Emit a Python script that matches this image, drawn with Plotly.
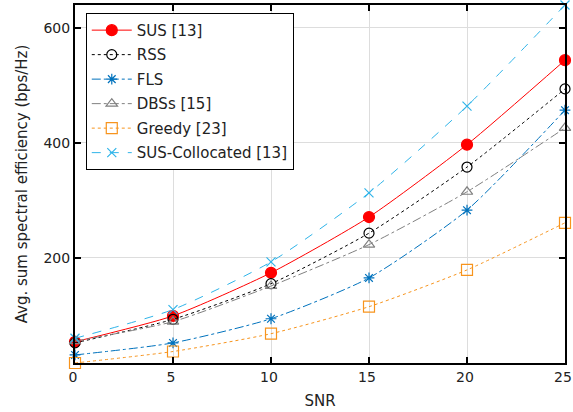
import plotly.graph_objects as go

snr = [0, 5, 10, 15, 20, 25]
sus = [54, 99, 174, 271, 397, 544]
rss = [52, 93, 155, 243, 358, 494]
fls = [31, 52, 94, 165, 283, 457]
dbss = [55, 89, 151, 223, 315, 426]
greedy = [17, 37, 68, 115, 179, 261]
sus_col = [60, 110, 193, 313, 464, 640]

x_ticks = [0, 5, 10, 15, 20, 25]
y_ticks = [200, 400, 600]

series = [
    ("SUS [13]", sus, "#FF0000", "solid", "circle", 11),
    ("RSS", rss, "#000000", "dot", "circle-open", 10),
    ("FLS", fls, "#0072BD", "dashdot", "asterisk-open", 9),
    ("DBSs [15]", dbss, "#808080", "dashdot", "triangle-up-open", 10),
    ("Greedy [23]", greedy, "#F7941D", "dot", "square-open", 11),
    ("SUS-Collocated [13]", sus_col, "#2FB4E9", "dash", "x-thin-open", 9),
]

fig = go.Figure()
for i, (name, ys, color, dash, sym, size) in enumerate(series):
    fig.add_trace(go.Scatter(
        x=snr, y=ys, name=name, mode="lines+markers", legendgroup=f"g{i}",
        line=dict(color=color, width=1, dash=dash, shape="spline", smoothing=0.6),
        marker=dict(symbol=sym, size=size, color=color,
                    line=dict(color=color, width=1.2)),
        cliponaxis=False,
    ))

axis_common = dict(
    showline=True, linecolor="black", linewidth=2, mirror="allticks",
    ticks="inside", ticklen=6, tickwidth=2, tickcolor="black",
    showgrid=True, gridcolor="#DDDDDD", gridwidth=1, zeroline=False,
    tickfont=dict(family="DejaVu Sans", size=14, color="#222"),
    ticklabeloverflow="allow", automargin=False,
)

fig.update_layout(
    width=573, height=412,
    margin=dict(l=75, r=8, t=5, b=49),
    paper_bgcolor="white", plot_bgcolor="white",
    font=dict(family="DejaVu Sans", size=15, color="#222"),
    xaxis=dict(range=[-0.0001, 25.0001], tickvals=x_ticks, ticklabelshift=-2,
               title=dict(text="SNR", font=dict(size=15), standoff=12),
               **axis_common),
    yaxis=dict(range=[17, 640], tickvals=y_ticks,
               title=dict(text="Avg. sum spectral efficiency (bps/Hz)", font=dict(size=15), standoff=12),
               **axis_common),
    legend=dict(x=0.022, y=0.978, xanchor="left", yanchor="top",
                bgcolor="white", bordercolor="black", borderwidth=1,
                font=dict(family="DejaVu Sans", size=15, color="#222"),
                tracegroupgap=2, itemwidth=40),
)

fig.write_html("out.html")
